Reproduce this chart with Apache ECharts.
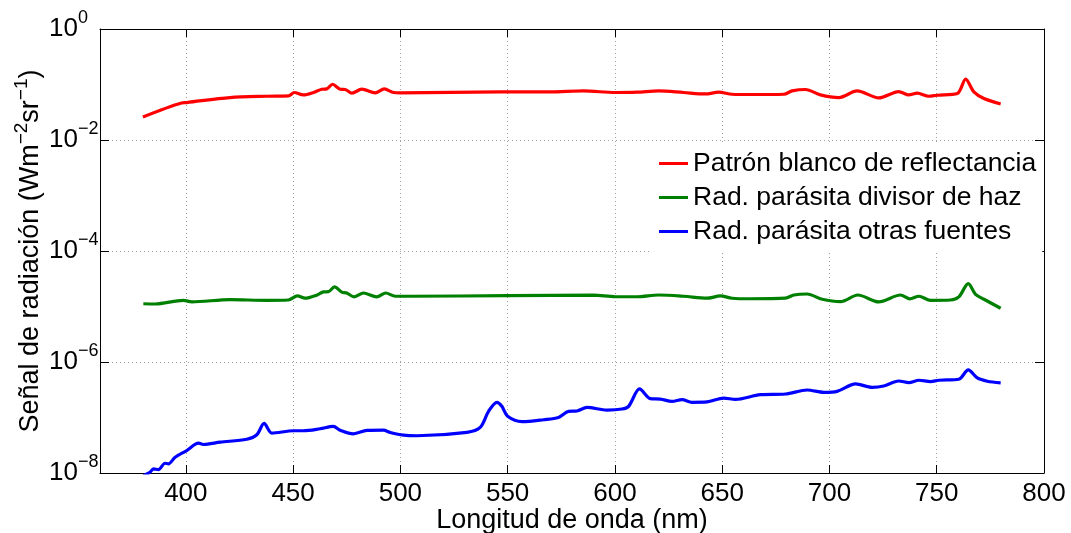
<!DOCTYPE html>
<html>
<head>
<meta charset="utf-8">
<script src="https://cdn.jsdelivr.net/npm/echarts@6/dist/echarts.min.js"></script>
<style>
  html, body { margin: 0; padding: 0; background: #fff; }
  #chart { width: 1071px; height: 533px; }
</style>
</head>
<body>
<div id="chart"></div>
<script>
// Wavelength axis ticks (nm)
const xTicks = [400, 450, 500, 550, 600, 650, 700, 750, 800];
// Log-axis tick exponents
const yTickExponents = [0, -2, -4, -6, -8];

const seriesNames = [
  'Patrón blanco de reflectancia',
  'Rad. parásita divisor de haz',
  'Rad. parásita otras fuentes'
];

// Patrón blanco de reflectancia
const redNm = [380, 398, 400.4, 420.6, 437.7, 447.8, 450.6, 454.8, 459.5, 463.4, 465.7, 468.4, 472, 474.3, 477.4, 482, 488.3, 492.5, 496.8, 500, 546.6, 569.9, 585.4, 600.2, 610.3, 620.4, 632, 642.2, 648.4, 654.6, 663.2, 678.7, 682.6, 688.8, 695.8, 704.4, 712.9, 723, 732.3, 737, 740.9, 746.3, 750.2, 759.6, 763.5, 767.3, 772, 779.8];
const redVal = [2.6e-2, 4.65e-2, 4.73e-2, 5.82e-2, 6.14e-2, 6.22e-2, 7.17e-2, 6.49e-2, 7.17e-2, 8.22e-2, 8.32e-2, 1.01e-1, 8.22e-2, 8.13e-2, 6.97e-2, 8.22e-2, 7.05e-2, 8.32e-2, 7.17e-2, 7.05e-2, 7.35e-2, 7.35e-2, 7.66e-2, 7.17e-2, 7.26e-2, 7.66e-2, 7.17e-2, 6.76e-2, 7.26e-2, 6.68e-2, 6.60e-2, 6.68e-2, 7.66e-2, 8.13e-2, 6.49e-2, 5.82e-2, 7.66e-2, 5.73e-2, 7.47e-2, 6.49e-2, 6.97e-2, 6.14e-2, 6.41e-2, 6.87e-2, 1.25e-1, 7.35e-2, 5.58e-2, 4.46e-2];

// Rad. parásita divisor de haz
const greenNm = [380.2, 385.7, 398.9, 402.8, 420.6, 437.7, 447.8, 452, 455.6, 461, 464.2, 466.5, 469.3, 472.7, 475, 478.5, 482.8, 489, 493.2, 497.6, 504.6, 550, 590, 600.2, 610.3, 620.4, 632, 642.9, 649.2, 654.6, 663.2, 679.5, 683.4, 689.6, 696.6, 705.2, 713.2, 723, 733.1, 737.5, 741.7, 747.1, 756.4, 760.3, 764.7, 768.1, 772, 779.8];
const greenVal = [1.12e-5, 1.11e-5, 1.29e-5, 1.21e-5, 1.33e-5, 1.29e-5, 1.31e-5, 1.55e-5, 1.41e-5, 1.60e-5, 1.83e-5, 1.85e-5, 2.25e-5, 1.82e-5, 1.75e-5, 1.49e-5, 1.75e-5, 1.49e-5, 1.75e-5, 1.53e-5, 1.53e-5, 1.57e-5, 1.60e-5, 1.50e-5, 1.50e-5, 1.61e-5, 1.53e-5, 1.41e-5, 1.55e-5, 1.41e-5, 1.38e-5, 1.41e-5, 1.61e-5, 1.68e-5, 1.35e-5, 1.22e-5, 1.61e-5, 1.21e-5, 1.61e-5, 1.37e-5, 1.53e-5, 1.29e-5, 1.31e-5, 1.49e-5, 2.58e-5, 1.66e-5, 1.35e-5, 9.3e-6];

// Rad. parásita otras fuentes
const blueNm = [380.2, 383.3, 384.9, 387.2, 390.3, 391.9, 395, 400.4, 405.9, 408.2, 416, 428.4, 433.1, 436.5, 440.1, 450.2, 454.8, 462.6, 468.8, 471.9, 478.1, 484.4, 492.1, 495.3, 501.5, 507.7, 531, 537.2, 541.1, 545, 547.3, 550, 556.7, 566.8, 573.7, 578.4, 582.3, 587, 596.3, 603.3, 606.4, 611.5, 616.5, 621.2, 626.6, 631.3, 635.9, 642.9, 650.7, 656.2, 667.8, 679.5, 689.6, 697.4, 703.6, 712.2, 719.9, 725.3, 732.3, 737, 741.7, 747.1, 751, 760.3, 764.7, 768.9, 773.6, 779.8];
const blueVal = [8.97e-9, 1.03e-8, 1.19e-8, 1.15e-8, 1.50e-8, 1.46e-8, 1.92e-8, 2.54e-8, 3.44e-8, 3.26e-8, 3.59e-8, 4.06e-8, 4.89e-8, 7.82e-8, 5.22e-8, 5.77e-8, 5.77e-8, 6.27e-8, 6.90e-8, 5.92e-8, 5.09e-8, 5.85e-8, 5.92e-8, 5.38e-8, 4.81e-8, 4.69e-8, 5.38e-8, 6.62e-8, 1.29e-7, 1.88e-7, 1.59e-7, 1.05e-7, 8.40e-8, 9.12e-8, 1.00e-7, 1.29e-7, 1.31e-7, 1.52e-7, 1.36e-7, 1.42e-7, 1.59e-7, 3.27e-7, 2.19e-7, 2.15e-7, 1.95e-7, 2.10e-7, 1.88e-7, 1.91e-7, 2.24e-7, 2.12e-7, 2.58e-7, 2.65e-7, 3.13e-7, 2.84e-7, 2.96e-7, 4.02e-7, 3.50e-7, 3.70e-7, 4.55e-7, 4.26e-7, 4.69e-7, 4.44e-7, 4.69e-7, 4.89e-7, 7.19e-7, 5.16e-7, 4.50e-7, 4.19e-7];

const colors = ['#ff0000', '#008000', '#0000ff'];
const FONT = 'Liberation Sans, Arial, Helvetica, sans-serif';

function pairs(xs, ys) {
  return xs.map((x, i) => [x, ys[i]]);
}

function powerLabel(value) {
  const e = Math.round(Math.log10(value));
  if (yTickExponents.indexOf(e) < 0) return '';
  const sup = e === 0 ? '0' : '\u2212' + (-e);
  return '{b|10}{s|' + sup + '}';
}

const gridLine = { show: true, lineStyle: { color: '#a0a0a0', type: [1, 3], width: 1 } };
const axisLine = { show: true, lineStyle: { color: '#000', width: 1 } };
const tickStyle = { show: true, inside: true, length: 8, lineStyle: { color: '#000', width: 1 } };

const chart = echarts.init(document.getElementById('chart'), null, { renderer: 'canvas' });

chart.setOption({
  animation: false,
  backgroundColor: '#fff',
  color: colors,
  textStyle: { fontFamily: FONT },
  grid: { left: 100, right: 27, top: 29, bottom: 60, containLabel: false, outerBoundsMode: 'none' },
  legend: {
    orient: 'vertical',
    left: 650,
    top: 143,
    padding: [7, 6, 7, 9],
    backgroundColor: '#fff',
    icon: 'rect',
    itemWidth: 29,
    itemHeight: 3,
    itemGap: 7,
    data: seriesNames,
    textStyle: { fontSize: 26.5, lineHeight: 26, color: '#000', fontFamily: FONT }
  },
  xAxis: [
    {
      type: 'value',
      min: 360,
      max: 800,
      position: 'bottom',
      name: 'Longitud de onda (nm)',
      nameLocation: 'middle',
      nameGap: 34,
      nameMoveOverlap: false,
      nameTextStyle: { fontSize: 27, color: '#000', fontFamily: FONT },
      axisLine: axisLine,
      axisTick: Object.assign({ customValues: xTicks }, tickStyle),
      axisLabel: { customValues: xTicks, fontSize: 26, color: '#000', margin: 8, fontFamily: FONT },
      splitLine: gridLine
    },
    {
      type: 'value',
      min: 360,
      max: 800,
      position: 'top',
      axisLine: axisLine,
      axisTick: Object.assign({ customValues: xTicks }, tickStyle),
      axisLabel: { show: false },
      splitLine: { show: false }
    }
  ],
  yAxis: [
    {
      type: 'log',
      logBase: 10,
      min: 1e-8,
      max: 1,
      interval: 2,
      position: 'left',
      name: '{n|Señal de radiación (Wm}{s|\u22122}{n|sr}{s|\u22121}{n|)}',
      nameLocation: 'middle',
      nameRotate: 90,
      nameGap: 56,
      nameMoveOverlap: false,
      nameTextStyle: {
        color: '#000',
        fontFamily: FONT,
        rich: {
          n: { fontSize: 27, lineHeight: 27, color: '#000', fontFamily: FONT },
          s: { fontSize: 19, lineHeight: 19, padding: [0, 0, 18, 0], color: '#000', fontFamily: FONT }
        }
      },
      axisLine: axisLine,
      axisTick: Object.assign({}, tickStyle, { length: 9 }),
      axisLabel: {
        formatter: powerLabel,
        align: 'left',
        margin: 51,
        color: '#000',
        rich: {
          b: { fontSize: 26, lineHeight: 26, color: '#000', fontFamily: FONT },
          s: { fontSize: 18, lineHeight: 18, padding: [0, 0, 22, 0], color: '#000', fontFamily: FONT }
        }
      },
      splitLine: gridLine
    },
    {
      type: 'log',
      logBase: 10,
      min: 1e-8,
      max: 1,
      interval: 2,
      position: 'right',
      axisLine: axisLine,
      axisTick: Object.assign({}, tickStyle, { length: 9 }),
      axisLabel: { show: false },
      splitLine: { show: false }
    }
  ],
  series: [
    { name: seriesNames[0], data: pairs(redNm, redVal) },
    { name: seriesNames[1], data: pairs(greenNm, greenVal) },
    { name: seriesNames[2], data: pairs(blueNm, blueVal) }
  ].map((s, i) => Object.assign({
    type: 'line',
    xAxisIndex: 0,
    yAxisIndex: 0,
    symbol: 'none',
    smooth: 0.3,
    clip: true,
    lineStyle: { width: 3.2, color: colors[i] },
    itemStyle: { color: colors[i] }
  }, s))
});
</script>
</body>
</html>
